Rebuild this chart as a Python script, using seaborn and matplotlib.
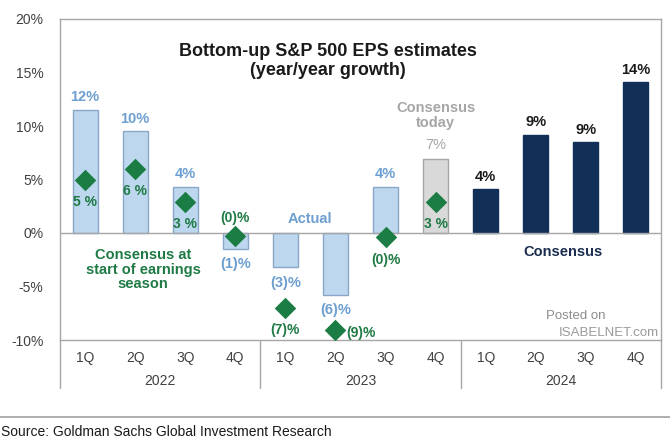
import matplotlib
matplotlib.use("Agg")
import matplotlib.pyplot as plt
import seaborn as sns
import pandas as pd
from matplotlib.lines import Line2D

# ---------------- data ----------------
quarters = ["1Q", "2Q", "3Q", "4Q", "1Q", "2Q", "3Q", "4Q", "1Q", "2Q", "3Q", "4Q"]
years = ["2022", "2023", "2024"]
eps_growth = [11.5, 9.5, 4.3, -1.5, -3.2, -5.8, 4.3, 6.9, 4.1, 9.2, 8.5, 14.1]
bar_labels = ["12%", "10%", "4%", "(1)%", "(3)%", "(6)%", "4%", "7%", "4%", "9%", "9%", "14%"]
bar_group = ["actual"] * 7 + ["today"] + ["consensus"] * 4
start_consensus = [5.0, 6.0, 2.9, -0.3, -7.0, -9.1, -0.4, 2.9]
start_labels = ["5 %", "6 %", "3 %", "(0)%", "(7)%", "(9)%", "(0)%", "3 %"]
y_ticks = [-10, -5, 0, 5, 10, 15, 20]

# ---------------- style ----------------
sns.set_theme(style="white")
plt.rcParams["font.family"] = ["Liberation Sans", "DejaVu Sans"]

fill = {"actual": "#bdd7ee", "today": "#d9d9d9", "consensus": "#122f58"}
edge = {"actual": "#8aa6c8", "today": "#a6a6a6", "consensus": "#122f58"}
lab_col = {"actual": "#6d9fd0", "today": "#a6a6a6", "consensus": "#1a1a1a"}
green = "#1b7d43"
green_txt = "#1f7a45"
frame = "#a6a6a6"
txt = "#404040"

fig = plt.figure(figsize=(6.7, 4.45), dpi=100)
ax = fig.add_axes([60 / 670, 1 - 340 / 445, 601 / 670, 321 / 445])

df = pd.DataFrame({
    "pos": [f"{q} {y}" for y in years for q in ["1Q", "2Q", "3Q", "4Q"]],
    "value": eps_growth,
    "group": bar_group,
})
sns.barplot(data=df, x="pos", y="value", hue="pos",
            palette=[fill[g] for g in bar_group], saturation=1,
            width=0.5, legend=False, errorbar=None, ax=ax)
for p, g in zip(ax.patches, bar_group):
    p.set_edgecolor(edge[g])
    p.set_linewidth(1)

x_pos = list(range(len(eps_growth)))
sns.scatterplot(x=x_pos[:len(start_consensus)], y=start_consensus, marker="D",
                s=120, color=green, edgecolor=green, linewidth=0, ax=ax, zorder=5)

ax.set_xlim(-0.5, 11.5)
ax.set_ylim(-10, 20)
ax.axhline(0, color=frame, lw=1, zorder=1)
for s in ax.spines.values():
    s.set_color(frame)
    s.set_linewidth(1)

ax.set_yticks(y_ticks)
ax.set_yticklabels([f"{v}%" for v in y_ticks], fontsize=10, color=txt)
ax.set_xticks(x_pos)
ax.set_xticklabels(quarters, fontsize=10, color=txt)
ax.tick_params(axis="both", length=0)
ax.tick_params(axis="y", pad=12)
ax.tick_params(axis="x", pad=8)
ax.set_xlabel("")
ax.set_ylabel("")

# year labels and separators
xt = ax.get_xaxis_transform()
for i, yr in enumerate(years):
    ax.text(4 * i + 1.5, -0.128, yr, transform=xt, ha="center", va="center",
            fontsize=10, color=txt)
for xs in [-0.5, 3.5, 7.5, 11.5]:
    ax.plot([xs, xs], [0, -0.15], transform=xt, clip_on=False, color=frame, lw=1)

# bar value labels
for i, (v, lab, g) in enumerate(zip(eps_growth, bar_labels, bar_group)):
    if g == "today":
        ax.annotate(lab, (i, v), xytext=(0, 10), textcoords="offset points",
                    ha="center", va="center", fontsize=10.5, color=lab_col[g])
        ax.annotate("Consensus\ntoday", (i, v), xytext=(0, 21),
                    textcoords="offset points", ha="center", va="bottom",
                    fontsize=10.5, fontweight="bold", color=lab_col[g],
                    linespacing=1.1)
    elif v >= 0:
        ax.annotate(lab, (i, v), xytext=(0, 9), textcoords="offset points",
                    ha="center", va="center", fontsize=10.5, fontweight="bold",
                    color=lab_col[g])
    else:
        ax.annotate(lab, (i, v), xytext=(0, -11), textcoords="offset points",
                    ha="center", va="center", fontsize=10.5, fontweight="bold",
                    color=lab_col[g])

# consensus-at-start labels
for i, (v, lab) in enumerate(zip(start_consensus, start_labels)):
    if i == 3:
        off, ha = (0, 13), "center"
    elif i == 5:
        off, ha = (8, -2), "left"
    else:
        off, ha = (0, -16), "center"
    ax.annotate(lab, (i, v), xytext=off, textcoords="offset points",
                ha=ha, va="center", fontsize=10, fontweight="bold", color=green_txt)

# annotations
ax.text(4.85, 16.1, "Bottom-up S&P 500 EPS estimates\n(year/year growth)",
        ha="center", va="center", fontsize=13, fontweight="bold",
        color="#1a1a1a", linespacing=1.15)
ax.text(4.49, 1.3, "Actual", ha="center", va="center", fontsize=10.5,
        fontweight="bold", color=lab_col["actual"])
ax.text(1.16, -3.45, "Consensus at\nstart of earnings\nseason", ha="center",
        va="center", fontsize=10.5, fontweight="bold", color=green_txt,
        linespacing=1.05)
ax.text(9.54, -1.8, "Consensus", ha="center", va="center", fontsize=10.5,
        fontweight="bold", color="#1c2f50")
ax.text(9.8, -7.75, "Posted on", ha="center", va="center", fontsize=9.5,
        color="#8c8c8c")
ax.text(9.45, -9.35, "ISABELNET.com", ha="left", va="center", fontsize=9.5,
        color="#9a9a9a")

# source
fig.add_artist(Line2D([0, 1], [1 - 417 / 445] * 2, transform=fig.transFigure,
                      color="#a0a0a0", lw=1.2))
fig.text(0.002, 1 - 432 / 445, "Source: Goldman Sachs Global Investment Research",
         ha="left", va="center", fontsize=10, color="#1a1a1a")

fig.savefig("out.png", dpi=100)
